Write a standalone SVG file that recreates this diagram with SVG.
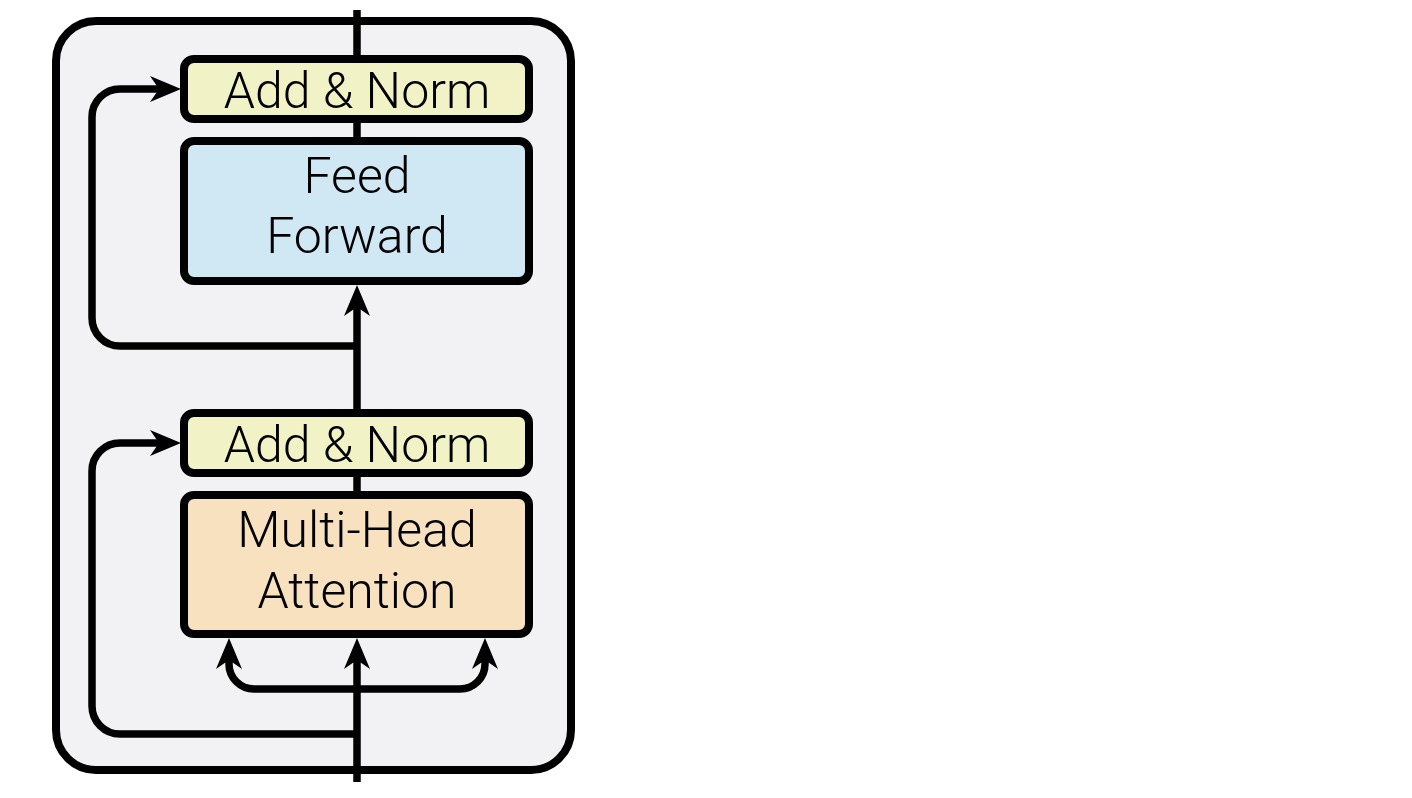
<svg xmlns="http://www.w3.org/2000/svg" width="1412" height="798" viewBox="0 0 1412 798">
  <defs>
    <style>
      .frame { fill: #f2f2f4; stroke: #000; stroke-width: 8; }
      .box { stroke: #000; stroke-width: 8; }
      .norm { fill: #f1f2c6; }
      .ff { fill: #d0e7f4; }
      .mha { fill: #f7e1bf; }
      .lbl { font-family: "Roboto", "Liberation Sans", sans-serif; font-weight: 300; font-size: 50px; fill: #000; text-anchor: middle; }
      .wire { fill: none; stroke: #000; stroke-width: 7.5; }
    </style>
    <marker id="arr" markerUnits="userSpaceOnUse" viewBox="-10 -14 34 28" markerWidth="34" markerHeight="28" refX="0" refY="0" orient="auto">
      <path d="M22,0 L-9,-13 L0,0 L-9,13 Z" fill="#000"/>
    </marker>
  </defs>
  <rect width="1412" height="798" fill="#fff"/>
  <g id="encoder-frame">
    <rect class="frame" x="56" y="21" width="515" height="749" rx="40" ry="40"/>
  </g>
  <g id="connectors">
    <path class="wire" d="M357,10 V59"/>
    <path class="wire" d="M357,119 V141"/>
    <path class="wire" d="M357,473 V495"/>
    <path class="wire" d="M357,413 V307" marker-end="url(#arr)"/>
    <path class="wire" d="M357,782 V660" marker-end="url(#arr)"/>
    <path class="wire" d="M357,346 H120 A28,28 0 0 1 92,318 V117 A28,28 0 0 1 120,89 H159" marker-end="url(#arr)"/>
    <path class="wire" d="M357,734 H120 A28,28 0 0 1 92,706 V471 A28,28 0 0 1 120,443 H159" marker-end="url(#arr)"/>
    <path class="wire" d="M357,689 H254 A25,25 0 0 1 229,664 V660" marker-end="url(#arr)"/>
    <path class="wire" d="M357,689 H460 A25,25 0 0 0 485,664 V660" marker-end="url(#arr)"/>
  </g>
  <g id="add-norm-top">
    <rect class="box norm" x="184" y="59" width="345" height="60" rx="10"/>
    <text class="lbl" x="357" y="108">Add &amp; Norm</text>
  </g>
  <g id="feed-forward">
    <rect class="box ff" x="184" y="141" width="345" height="140" rx="10"/>
    <text class="lbl" x="357" y="193">Feed</text>
    <text class="lbl" x="357" y="253">Forward</text>
  </g>
  <g id="add-norm-bottom">
    <rect class="box norm" x="184" y="413" width="345" height="60" rx="10"/>
    <text class="lbl" x="357" y="462">Add &amp; Norm</text>
  </g>
  <g id="multi-head-attention">
    <rect class="box mha" x="184" y="495" width="345" height="139" rx="10"/>
    <text class="lbl" x="357" y="547">Multi-Head</text>
    <text class="lbl" x="357" y="608">Attention</text>
  </g>
</svg>
